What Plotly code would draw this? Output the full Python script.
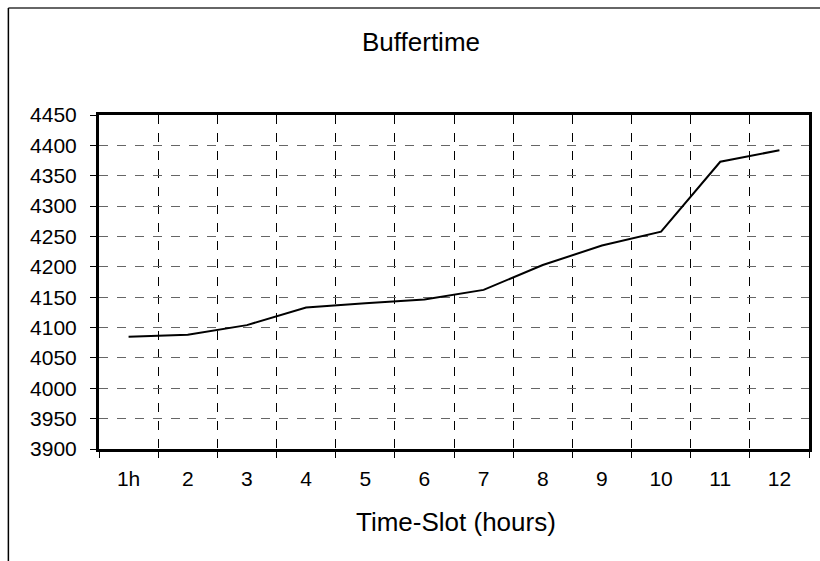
import plotly.graph_objects as go

categories = ["1h", "2", "3", "4", "5", "6", "7", "8", "9", "10", "11", "12"]
buffertime = [4085, 4088, 4104, 4133, 4140, 4146, 4162, 4203, 4235, 4258, 4373, 4392]
y_ticks = list(range(3900, 4451, 50))

W, H = 820, 561
L, R, T, B = 99, 8, 115, 112
pw, ph = W - L - R, H - T - B

def px_x(x):
    return (x - L) / pw

def px_y(y):
    return (H - B - y) / ph

FONT = "Liberation Sans, Arial, sans-serif"

fig = go.Figure()
fig.add_trace(go.Scatter(x=categories, y=buffertime, mode="lines",
                         line=dict(color="black", width=2), showlegend=False))

fig.update_layout(
    width=W, height=H,
    margin=dict(l=L, r=R, t=T, b=B),
    paper_bgcolor="white", plot_bgcolor="white",
    font=dict(family=FONT, size=21, color="black"),
)
fig.update_xaxes(
    type="category", tickson="boundaries", range=[-0.5, 11.5],
    showline=True, linecolor="black", linewidth=3, mirror=True,
    ticks="outside", ticklen=6, tickcolor="black", tickwidth=1,
    showgrid=True, gridcolor="black", gridwidth=1, griddash="dash",
    ticklabelstandoff=9,
    tickfont=dict(family=FONT, size=21, color="black"),
)
fig.update_yaxes(
    range=[3900, 4450], tickvals=y_ticks,
    showline=True, linecolor="black", linewidth=3, mirror=True,
    ticks="outside", ticklen=6, tickcolor="black", tickwidth=1,
    showgrid=True, gridcolor="#666666", gridwidth=1, griddash="dash",
    zeroline=False, ticklabelstandoff=9,
    tickfont=dict(family=FONT, size=21, color="black"),
)
fig.add_annotation(text="Buffertime", xref="paper", yref="paper",
                   x=px_x(422), y=px_y(42), xanchor="center", yanchor="middle",
                   showarrow=False, font=dict(family=FONT, size=26, color="black"))
fig.add_annotation(text="Time-Slot (hours)", xref="paper", yref="paper",
                   x=px_x(458), y=px_y(522), xanchor="center", yanchor="middle",
                   showarrow=False, font=dict(family=FONT, size=26, color="black"))
# outer chart border (top and left edges visible)
fig.add_shape(type="line", xref="paper", yref="paper",
              x0=px_x(8), x1=px_x(830), y0=px_y(8), y1=px_y(8),
              line=dict(color="#333333", width=1.5))
fig.add_shape(type="line", xref="paper", yref="paper",
              x0=px_x(8), x1=px_x(8), y0=px_y(8), y1=px_y(570),
              line=dict(color="black", width=1.5))

fig.write_html("out.html")
